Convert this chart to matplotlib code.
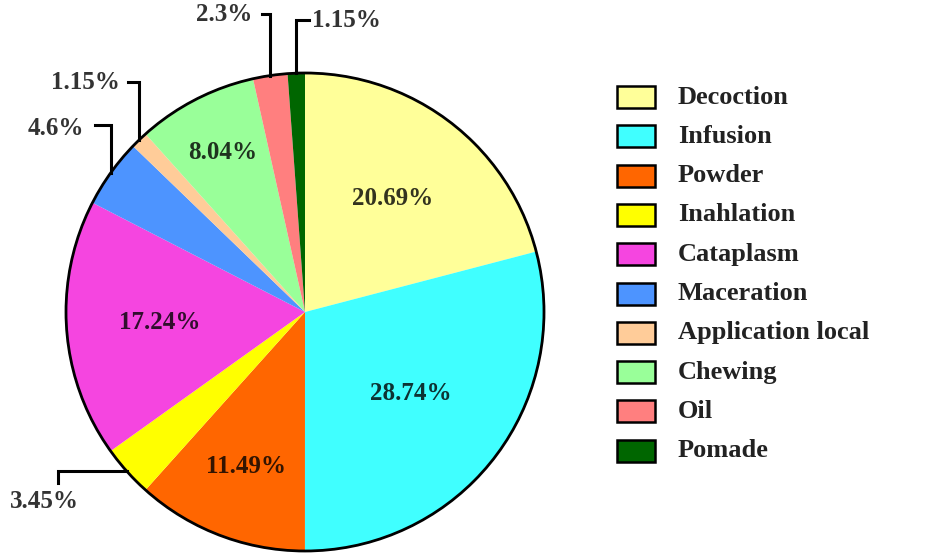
import numpy as np
import matplotlib.pyplot as plt
from matplotlib.patches import Circle, Rectangle
from matplotlib.colors import to_rgb

# share of each preparation method (%)
methods = ["Decoction", "Infusion", "Powder", "Inahlation", "Cataplasm",
           "Maceration", "Application local", "Chewing", "Oil", "Pomade"]
percents = [20.69, 28.74, 11.49, 3.45, 17.24, 4.6, 1.15, 8.04, 2.3, 1.15]
colors = ["#FFFF99", "#40FFFF", "#FF6600", "#FFFF00", "#F545E0",
          "#4D94FF", "#FFCC99", "#99FF99", "#FF7F7F", "#006600"]

W, H = 928, 556
CX, CY, R = 305, 312, 239


# work in pixel coordinates, y measured from the top
def py(y):
    return H - y


plt.rcParams['font.family'] = ['Liberation Serif', 'DejaVu Serif']
plt.rcParams['font.weight'] = 'bold'

fig = plt.figure(figsize=(W / 100, H / 100), dpi=100)
ax = fig.add_axes([0, 0, 1, 1])

wedges, _ = ax.pie(percents, colors=colors, startangle=90, counterclock=False,
                   center=(CX, py(CY)), radius=R, wedgeprops=dict(linewidth=0))
ax.add_patch(Circle((CX, py(CY)), R, fill=False, lw=2, color="black", zorder=3))
ax.set_xlim(0, W)
ax.set_ylim(0, H)
ax.set_aspect("equal")
ax.axis("off")


def mid_point(w, frac):
    # point along the bisector of a wedge, frac of the radius out
    t = np.deg2rad((w.theta1 + w.theta2) / 2)
    return CX + frac * R * np.cos(t), py(CY) + frac * R * np.sin(t)


# labels inside the big wedges
inside = {0: 0.60, 1: 0.56, 2: 0.69, 4: 0.61, 7: 0.75}
for i, frac in inside.items():
    x, y = mid_point(wedges[i], frac)
    c = np.array(to_rgb(colors[i])) * 0.2
    ax.text(x, y, f"{percents[i]:g}%", ha="center", va="center",
            fontsize=18, color=c, zorder=4)

# labels outside the small wedges, with bracket leaders
# (wedge index, elbow y, line end x, text x, text y, text align)
outside = [
    (8, 14, 262, 252, 14, "right"),
    (9, 20, 309, 312, 20, "left"),
    (6, 82, 128, 120, 82, "right"),
    (5, 125, 95, 84, 128, "right"),
]
for i, ey, lx, tx, ty, ha in outside:
    x0, y0 = mid_point(wedges[i], 1.0)
    ax.plot([x0, x0, lx], [y0, py(ey), py(ey)], color="black", lw=2.2,
            solid_joinstyle="miter", zorder=2)
    ax.text(tx, py(ty), f"{percents[i]:g}%", ha=ha, va="center",
            fontsize=18, color="#333333")

# Inahlation label sits below its leader
x0, y0 = mid_point(wedges[3], 1.0)
ax.plot([x0, 58, 58], [y0, y0, py(483)], color="black", lw=2.2,
        solid_joinstyle="miter", zorder=2)
ax.text(10, py(502), f"{percents[3]:g}%", ha="left", va="center",
        fontsize=18, color="#333333")

# legend
for k, (name, c) in enumerate(zip(methods, colors)):
    yc = 97 + k * 39.3
    ax.add_patch(Rectangle((617, py(yc + 11)), 38, 22, facecolor=c,
                           edgecolor="black", lw=1.8))
    ax.text(678, py(yc), name, ha="left", va="center", fontsize=19,
            color="#222222")

fig.savefig("out.png", dpi=100)
